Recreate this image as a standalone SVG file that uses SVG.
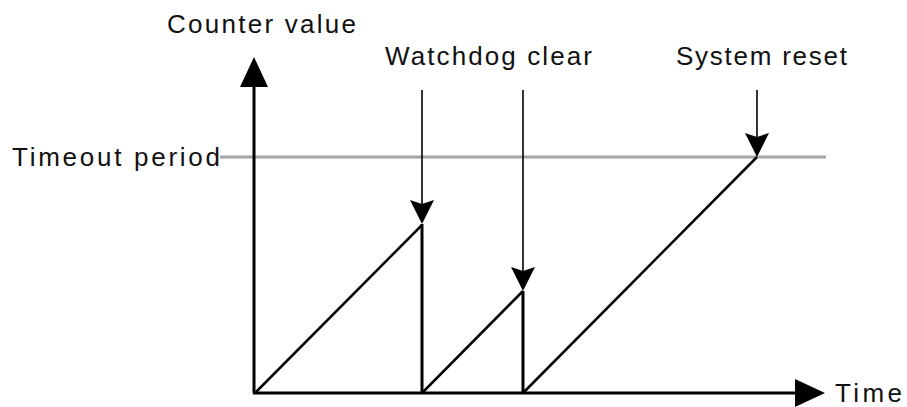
<svg xmlns="http://www.w3.org/2000/svg" width="907" height="407" viewBox="0 0 907 407">
<style>
text{font-family:"Liberation Sans",Arial,sans-serif;font-size:26px;fill:#111}
.axis{stroke:#000;stroke-width:3;fill:none}
.ramp{stroke:#000;stroke-width:2.5;fill:none}
.ptr{stroke:#000;stroke-width:1.6;fill:none}
.head{fill:#000}
</style>
<rect width="907" height="407" fill="#fff"/>
<g id="timeout">
<line x1="220" y1="157" x2="826" y2="157" stroke="#a6a6a6" stroke-width="3"/>
<text x="12" y="166" textLength="208" lengthAdjust="spacing">Timeout period</text>
</g>
<g id="axes">
<line class="axis" x1="254" y1="393" x2="254" y2="84"/>
<polygon class="head" points="254,57 240,87 268,87"/>
<line class="axis" x1="253" y1="393" x2="798" y2="393"/>
<polygon class="head" points="825,393 795,379 795,407"/>
<text x="167" y="33" textLength="189" lengthAdjust="spacing">Counter value</text>
<text x="835" y="402" textLength="67" lengthAdjust="spacing">Time</text>
</g>
<g id="connectors">
<polyline class="ramp" points="255,393 422,225"/>
<line class="axis" x1="422" y1="224" x2="422" y2="393"/>
<polyline class="ramp" points="422,393 523,291"/>
<line class="axis" x1="523" y1="291" x2="523" y2="393"/>
<polyline class="ramp" points="523,393 757,157"/>
<line class="ptr" x1="422" y1="90" x2="422" y2="205"/>
<polygon class="head" points="422,224 410,200 422,204 434,200"/>
<line class="ptr" x1="523" y1="90" x2="523" y2="272"/>
<polygon class="head" points="523,291 511,267 523,271 535,267"/>
<line class="ptr" x1="757" y1="90" x2="757" y2="138"/>
<polygon class="head" points="757,157 745,133 757,137 769,133"/>
</g>
<g id="labels">
<text x="385" y="65" textLength="207" lengthAdjust="spacing">Watchdog clear</text>
<text x="676" y="65" textLength="171" lengthAdjust="spacing">System reset</text>
</g>
</svg>
